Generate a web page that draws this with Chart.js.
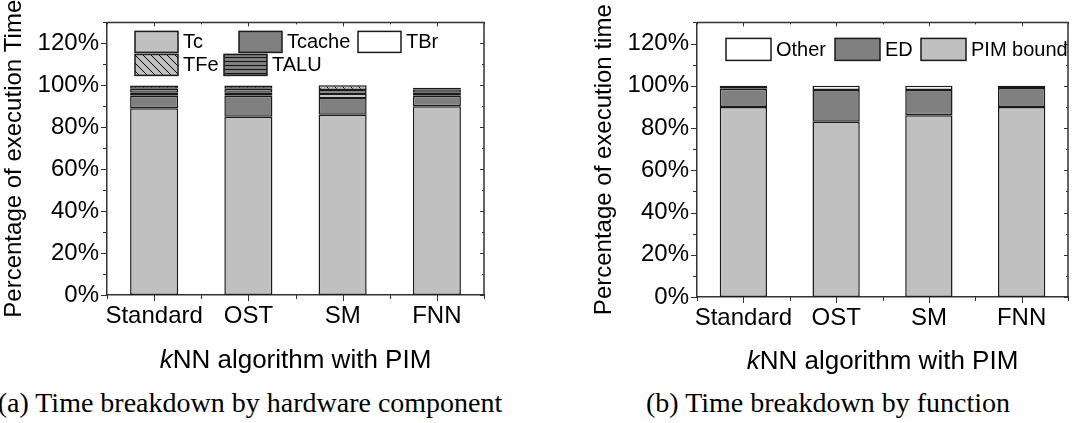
<!DOCTYPE html>
<html>
<head>
<meta charset="utf-8">
<script src="https://cdn.jsdelivr.net/npm/chart.js@4/dist/chart.umd.min.js"></script>
<style>
  body { margin: 0; background: #fff; width: 1080px; height: 423px; overflow: hidden; position: relative; }
  .panel { position: absolute; top: 0; width: 540px; height: 380px; }
  .caption { position: absolute; top: 387px; font-family: 'Liberation Serif', serif; font-size: 28px; color: #000; white-space: nowrap; transform: translateX(-50%); }
</style>
</head>
<body>
<div class="panel" style="left:0"><canvas id="hwChart" width="540" height="380"></canvas></div>
<div class="panel" style="left:540px"><canvas id="fnChart" width="540" height="380"></canvas></div>
<div class="caption" style="left:250px">(a) Time breakdown by hardware component</div>
<div class="caption" style="left:828px">(b) Time breakdown by function</div>

<script>
const algorithms = ['Standard', 'OST', 'SM', 'FNN'];

// (a) hardware components, percent of execution time (bottom to top)
const tc = [89, 85, 86, 90];
const tcache = [6, 10, 8, 5];
const tbr = [1.5, 1.5, 1.8, 1.5];
const talu = [1.8, 1.8, 2, 1.6];
const tfe = [1.6, 1.6, 2.2, 0.7];

// (b) functions, percent of execution time (bottom to top)
const pimBound = [90, 83, 86, 90];
const ed = [8.6, 15, 12, 9];
const other = [1.4, 2, 2, 1];

const yMax = 130;
const yStep = 10;

const FONT = "'Liberation Sans', Arial, sans-serif";
const AXIS_COLOR = '#333';
const EDGE_COLOR = '#1a1a1a';
const LIGHT = '#c0c0c0';
const DARK = '#808080';

function makePattern(bg, kind) {
  const c = document.createElement('canvas');
  const size = kind === 'diag' ? 8 : 4;
  c.width = size;
  c.height = size;
  const g = c.getContext('2d');
  g.fillStyle = bg;
  g.fillRect(0, 0, size, size);
  if (kind === 'diag') {
    g.strokeStyle = '#000';
    g.lineWidth = 1;
    g.beginPath();
    g.moveTo(0, 0); g.lineTo(size, size);
    g.moveTo(-2, size - 2); g.lineTo(2, size + 2);
    g.moveTo(size - 2, -2); g.lineTo(size + 2, 2);
    g.stroke();
  } else {
    g.fillStyle = '#111';
    g.fillRect(0, 1, size, 1);
  }
  return g.createPattern(c, 'repeat');
}

function segment(label, data, color) {
  return {
    label: label,
    data: data,
    backgroundColor: color,
    borderColor: EDGE_COLOR,
    borderWidth: 1.5,
    borderSkipped: false,
    categoryPercentage: 1,
    barPercentage: 0.51
  };
}

// box + ticks on all four sides
const frameTicks = {
  id: 'frameTicks',
  afterDraw(chart) {
    const { ctx, chartArea: a, scales: { x, y } } = chart;
    ctx.save();
    ctx.strokeStyle = AXIS_COLOR;
    ctx.lineWidth = 1.5;
    ctx.beginPath();
    ctx.moveTo(a.left, a.top);
    ctx.lineTo(a.right, a.top);
    ctx.lineTo(a.right, a.bottom);
    ctx.stroke();
    ctx.lineWidth = 1;
    ctx.beginPath();
    for (let v = 0; v <= yMax; v += yStep) {
      const py = Math.round(y.getPixelForValue(v)) + 0.5;
      const len = v % 20 === 0 ? 6 : 4;
      ctx.moveTo(a.left - len, py); ctx.lineTo(a.left, py);
      ctx.moveTo(a.right, py); ctx.lineTo(a.right - len + 2, py);
    }
    const n = chart.data.labels.length;
    for (let i = -0.5; i <= n - 0.5; i += 0.5) {
      const px = Math.round(x.getPixelForValue(i)) + 0.5;
      const len = Number.isInteger(i) ? 6 : 4;
      ctx.moveTo(px, a.bottom); ctx.lineTo(px, a.bottom + len);
      ctx.moveTo(px, a.top); ctx.lineTo(px, a.top + len - 2);
    }
    ctx.stroke();
    ctx.restore();
  }
};

// x title with an italic "k"
const xTitle = {
  id: 'xTitle',
  afterDraw(chart, args, opts) {
    const { ctx, chartArea: a } = chart;
    const lead = 'k', rest = 'NN algorithm with PIM';
    ctx.save();
    ctx.fillStyle = '#000';
    ctx.textBaseline = 'alphabetic';
    ctx.textAlign = 'left';
    ctx.font = 'italic 26px ' + FONT;
    const w1 = ctx.measureText(lead).width;
    ctx.font = '26px ' + FONT;
    const w2 = ctx.measureText(rest).width;
    const x0 = (a.left + a.right) / 2 - (w1 + w2) / 2;
    ctx.font = 'italic 26px ' + FONT;
    ctx.fillText(lead, x0, opts.baseline);
    ctx.font = '26px ' + FONT;
    ctx.fillText(rest, x0 + w1, opts.baseline);
    ctx.restore();
  }
};

// legend drawn inside the plot area
const boxLegend = {
  id: 'boxLegend',
  afterDraw(chart, args, opts) {
    const { ctx, chartArea: a } = chart;
    ctx.save();
    ctx.font = opts.fontSize + 'px ' + FONT;
    ctx.textBaseline = 'middle';
    opts.order.forEach((label, i) => {
      const ds = chart.data.datasets.find(d => d.label === label);
      const slot = opts.slots[i];
      const bx = a.left + slot.x, by = a.top + slot.y;
      ctx.fillStyle = ds.backgroundColor;
      ctx.fillRect(bx, by, opts.boxW, opts.boxH);
      ctx.strokeStyle = EDGE_COLOR;
      ctx.lineWidth = 1.5;
      ctx.strokeRect(bx, by, opts.boxW, opts.boxH);
      ctx.fillStyle = '#000';
      ctx.fillText(label, bx + opts.boxW + 5, by + opts.boxH / 2 + 1);
    });
    ctx.restore();
  }
};

function makeOptions(cfg) {
  return {
    responsive: false,
    animation: false,
    layout: { padding: { left: cfg.padLeft, right: cfg.padRight, top: cfg.padTop, bottom: 0 } },
    plugins: {
      legend: { display: false },
      tooltip: { enabled: false },
      xTitle: { baseline: cfg.titleBaseline },
      boxLegend: cfg.legend
    },
    scales: {
      x: {
        stacked: true,
        grid: { display: false, drawTicks: false },
        border: { display: true, color: AXIS_COLOR, width: 1.5 },
        ticks: { color: '#000', font: { family: FONT, size: 24 }, padding: 7, maxRotation: 0, autoSkip: false },
        afterFit: s => { s.height = cfg.xHeight; }
      },
      y: {
        stacked: true,
        min: 0,
        max: yMax,
        grid: { display: false, drawTicks: false },
        border: { display: true, color: AXIS_COLOR, width: 1.5 },
        ticks: {
          stepSize: yStep,
          autoSkip: false,
          padding: 8,
          color: '#000',
          font: { family: FONT, size: 24 },
          callback: v => (v % 20 === 0 ? v + '%' : '')
        },
        title: { display: true, text: cfg.yTitle, color: '#000', font: { family: FONT, size: 24 }, padding: 0 },
        afterFit: s => { s.width = 107; }
      }
    }
  };
}

new Chart(document.getElementById('hwChart'), {
  type: 'bar',
  data: {
    labels: algorithms,
    datasets: [
      segment('Tc', tc, LIGHT),
      segment('Tcache', tcache, DARK),
      segment('TBr', tbr, '#ffffff'),
      segment('TALU', talu, makePattern(DARK, 'hline')),
      segment('TFe', tfe, makePattern(LIGHT, 'diag'))
    ]
  },
  options: makeOptions({
    padLeft: 0, padRight: 56, padTop: 8, xHeight: 85, titleBaseline: 368,
    yTitle: 'Percentage of execution Time',
    legend: {
      order: ['Tc', 'Tcache', 'TBr', 'TFe', 'TALU'],
      slots: [{ x: 28, y: 9 }, { x: 132, y: 9 }, { x: 251, y: 9 }, { x: 28, y: 32 }, { x: 117, y: 32 }],
      boxW: 43, boxH: 21, fontSize: 20
    }
  }),
  plugins: [frameTicks, xTitle, boxLegend]
});

new Chart(document.getElementById('fnChart'), {
  type: 'bar',
  data: {
    labels: algorithms,
    datasets: [
      segment('PIM bound', pimBound, LIGHT),
      segment('ED', ed, DARK),
      segment('Other', other, '#ffffff')
    ]
  },
  options: makeOptions({
    padLeft: 50, padRight: 12, padTop: 16, xHeight: 83, titleBaseline: 369,
    yTitle: 'Percentage of execution time',
    legend: {
      order: ['Other', 'ED', 'PIM bound'],
      slots: [{ x: 29, y: 16 }, { x: 138, y: 16 }, { x: 224, y: 16 }],
      boxW: 45, boxH: 22, fontSize: 20
    }
  }),
  plugins: [frameTicks, xTitle, boxLegend]
});
</script>
</body>
</html>
